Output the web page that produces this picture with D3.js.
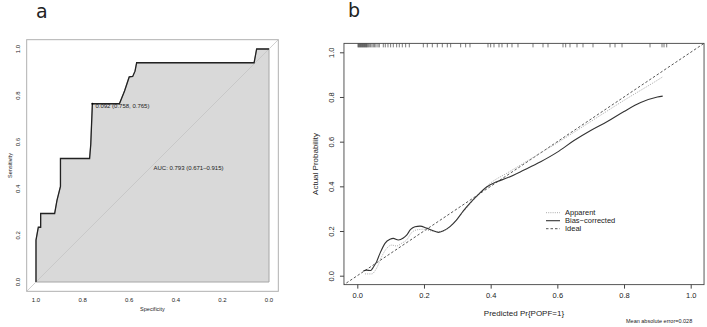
<!DOCTYPE html>
<html>
<head>
<meta charset="utf-8">
<script src="https://cdn.jsdelivr.net/npm/d3@7"></script>
<style>
  body { margin: 0; background: #fff; }
  svg text { font-family: "Liberation Sans", Arial, sans-serif; fill: #222; }
</style>
</head>
<body>
<div id="chart"></div>
<script>
// ROC curve (panel a): specificity / sensitivity pairs
const rocSpec = [1, 1, 0.99, 0.98, 0.98, 0.92, 0.91, 0.895, 0.895, 0.77, 0.765, 0.758, 0.642, 0.62, 0.60, 0.585, 0.575, 0.568, 0.064, 0.053, 0];
const rocSens = [0, 0.18, 0.235, 0.235, 0.294, 0.294, 0.35, 0.41, 0.53, 0.53, 0.59, 0.765, 0.765, 0.82, 0.88, 0.882, 0.905, 0.941, 0.941, 1, 1];
const bestPoint = { spec: 0.758, sens: 0.765, label: "0.092 (0.758, 0.765)" };
const aucLabel = "AUC: 0.793 (0.671\u20130.915)";
const ticksA = [0, 0.2, 0.4, 0.6, 0.8, 1.0];

// calibration curve (panel b)
const biasX = [0.018, 0.028, 0.040, 0.048, 0.058, 0.068, 0.083, 0.098, 0.108, 0.123, 0.138, 0.148, 0.160, 0.173, 0.188, 0.208, 0.228, 0.243, 0.258, 0.278, 0.298, 0.318, 0.338, 0.358, 0.388, 0.418, 0.45, 0.5, 0.55, 0.6, 0.65, 0.7, 0.75, 0.8, 0.85, 0.9, 0.916];
const biasY = [0.021, 0.025, 0.023, 0.038, 0.063, 0.100, 0.145, 0.163, 0.167, 0.160, 0.169, 0.182, 0.207, 0.219, 0.222, 0.213, 0.201, 0.194, 0.201, 0.220, 0.250, 0.290, 0.325, 0.356, 0.397, 0.420, 0.438, 0.473, 0.51, 0.553, 0.605, 0.65, 0.69, 0.735, 0.775, 0.80, 0.804];
const appX = [0.023, 0.043, 0.058, 0.073, 0.088, 0.103, 0.118, 0.133, 0.148, 0.163, 0.178, 0.198, 0.218, 0.238, 0.258, 0.28, 0.3, 0.35, 0.4, 0.45, 0.5, 0.55, 0.6, 0.7, 0.8, 0.9, 0.916];
const appY = [0.008, 0.008, 0.034, 0.085, 0.122, 0.137, 0.133, 0.145, 0.160, 0.193, 0.205, 0.208, 0.201, 0.197, 0.200, 0.222, 0.255, 0.34, 0.415, 0.46, 0.505, 0.55, 0.595, 0.69, 0.785, 0.875, 0.89];
const rugX = [0.002, 0.004, 0.006, 0.008, 0.010, 0.012, 0.014, 0.016, 0.018, 0.020, 0.022, 0.024, 0.026, 0.028, 0.030, 0.033, 0.036, 0.040, 0.044, 0.048, 0.052, 0.056,
  0.062, 0.066, 0.078, 0.084, 0.092, 0.100, 0.108, 0.118, 0.126, 0.135, 0.145, 0.156,
  0.198, 0.21, 0.225, 0.24, 0.255, 0.27, 0.28, 0.31, 0.325, 0.338,
  0.392, 0.40, 0.41, 0.425, 0.434, 0.45, 0.464, 0.482, 0.527, 0.557, 0.572,
  0.617, 0.625, 0.638, 0.659, 0.677, 0.707, 0.758, 0.773, 0.794, 0.878, 0.914, 0.92, 0.928];
const legendItems = ["Apparent", "Bias\u2212corrected", "Ideal"];
const ticksB = [0, 0.2, 0.4, 0.6, 0.8, 1.0];
const maeLabel = "Mean absolute error=0.028";

const width = 707, height = 327;
const svg = d3.select("#chart").append("svg")
  .attr("width", width).attr("height", height);

// ---------- panel a ----------
const xA = d3.scaleLinear().domain([1, 0]).range([36, 269]);
const yA = d3.scaleLinear().domain([0, 1]).range([282, 49]);
const gA = svg.append("g");

gA.append("text").attr("x", 36).attr("y", 18).style("font-size", "19px")
  .style("font-family", "DejaVu Sans, sans-serif").text("a");

const boxA = { x0: xA(1.04), x1: xA(-0.04), y0: yA(1.04), y1: yA(-0.04) };
gA.append("clipPath").attr("id", "clipA").append("rect")
  .attr("x", boxA.x0).attr("y", boxA.y0)
  .attr("width", boxA.x1 - boxA.x0).attr("height", boxA.y1 - boxA.y0);

// filled area under the curve
const rocPts = rocSpec.map((s, i) => [s, rocSens[i]]);
const areaPts = rocPts.concat([[0, 0]]);
gA.append("path")
  .attr("d", d3.line().x(d => xA(d[0])).y(d => yA(d[1]))(areaPts) + "Z")
  .attr("fill", "#d9d9d9").attr("stroke", "#a6a6a6").attr("stroke-width", 1);

// chance diagonal
gA.append("line").attr("clip-path", "url(#clipA)")
  .attr("x1", xA(1.1)).attr("y1", yA(-0.1)).attr("x2", xA(-0.1)).attr("y2", yA(1.1))
  .attr("stroke", "#c4c4c4").attr("stroke-width", 0.8);

gA.append("path")
  .attr("d", d3.line().x(d => xA(d[0])).y(d => yA(d[1]))(rocPts))
  .attr("fill", "none").attr("stroke", "#222").attr("stroke-width", 1.3);

gA.append("circle").attr("cx", xA(bestPoint.spec)).attr("cy", yA(bestPoint.sens))
  .attr("r", 1).attr("fill", "#000");
gA.append("text").attr("x", xA(bestPoint.spec) + 3).attr("y", yA(bestPoint.sens) + 4)
  .style("font-size", "6px").text(bestPoint.label);
gA.append("text").attr("x", xA(0.5) + 1).attr("y", yA(0.49) + 2)
  .style("font-size", "6px").text(aucLabel);

gA.append("rect").attr("x", boxA.x0).attr("y", boxA.y0)
  .attr("width", boxA.x1 - boxA.x0).attr("height", boxA.y1 - boxA.y0)
  .attr("fill", "none").attr("stroke", "#b0b0b0").attr("stroke-width", 1);

gA.selectAll(".xta").data(ticksA).join("text")
  .attr("x", d => xA(d)).attr("y", 302).attr("text-anchor", "middle")
  .style("font-size", "6px").text(d => d.toFixed(1));
gA.selectAll(".yta").data(ticksA).join("text")
  .attr("transform", d => `translate(20,${yA(d)}) rotate(-90)`)
  .attr("text-anchor", "middle").style("font-size", "6px").text(d => d.toFixed(1));
gA.append("text").attr("x", xA(0.5)).attr("y", 311).attr("text-anchor", "middle")
  .style("font-size", "5.5px").text("Specificity");
gA.append("text").attr("transform", `translate(12,${yA(0.5)}) rotate(-90)`)
  .attr("text-anchor", "middle").style("font-size", "5.5px").text("Sensitivity");

// ---------- panel b ----------
const xB = d3.scaleLinear().domain([0, 1]).range([357.3, 690.7]);
const yB = d3.scaleLinear().domain([0, 1]).range([275.7, 52.3]);
const gB = svg.append("g");

gB.append("text").attr("x", 348).attr("y", 17).style("font-size", "19px")
  .style("font-family", "DejaVu Sans, sans-serif").text("b");

const boxB = { x0: xB(-0.04), x1: xB(1.04), y0: yB(1.04), y1: yB(-0.04) };
gB.append("clipPath").attr("id", "clipB").append("rect")
  .attr("x", boxB.x0).attr("y", boxB.y0)
  .attr("width", boxB.x1 - boxB.x0).attr("height", boxB.y1 - boxB.y0);

gB.append("line").attr("clip-path", "url(#clipB)")
  .attr("x1", xB(-0.1)).attr("y1", yB(-0.1)).attr("x2", xB(1.1)).attr("y2", yB(1.1))
  .attr("stroke", "#444").attr("stroke-width", 0.9).attr("stroke-dasharray", "2.5,2");

const lineB = d3.line().x(d => xB(d[0])).y(d => yB(d[1])).curve(d3.curveMonotoneX);
gB.append("path").attr("d", lineB(appX.map((v, i) => [v, appY[i]])))
  .attr("fill", "none").attr("stroke", "#aaa").attr("stroke-width", 1)
  .attr("stroke-dasharray", "1,1.2");
gB.append("path").attr("d", lineB(biasX.map((v, i) => [v, biasY[i]])))
  .attr("fill", "none").attr("stroke", "#333").attr("stroke-width", 1.1);

// rug of predicted values along the top
gB.selectAll(".rug").data(rugX).join("line")
  .attr("x1", d => xB(d)).attr("x2", d => xB(d))
  .attr("y1", boxB.y0).attr("y2", boxB.y0 + 4)
  .attr("stroke", "#222").attr("stroke-width", 0.6);

gB.append("rect").attr("x", boxB.x0).attr("y", boxB.y0)
  .attr("width", boxB.x1 - boxB.x0).attr("height", boxB.y1 - boxB.y0)
  .attr("fill", "none").attr("stroke", "#444").attr("stroke-width", 0.9);

// axes
gB.append("g").attr("transform", `translate(0,${boxB.y1})`)
  .call(d3.axisBottom(xB).tickValues(ticksB).tickSize(4).tickFormat(d3.format(".1f")))
  .call(g => g.select(".domain").remove())
  .call(g => g.selectAll("line").attr("stroke", "#444"))
  .call(g => g.selectAll("text").attr("dy", "0.9em").style("font-size", "7.5px")
    .style("font-family", "Liberation Sans, Arial, sans-serif"));
gB.append("g").attr("transform", `translate(${boxB.x0},0)`)
  .call(d3.axisLeft(yB).tickValues(ticksB).tickSize(4).tickFormat(d3.format(".1f")))
  .call(g => g.select(".domain").remove())
  .call(g => g.selectAll("line").attr("stroke", "#444"))
  .call(g => g.selectAll("text")
    .attr("x", null).attr("dy", null)
    .attr("transform", d => `translate(-10,0) rotate(-90)`)
    .attr("text-anchor", "middle")
    .style("font-size", "7.5px")
    .style("font-family", "Liberation Sans, Arial, sans-serif"));

gB.append("text").attr("x", xB(0.5)).attr("y", 316).attr("text-anchor", "middle")
  .style("font-size", "8px").text("Predicted Pr{POPF=1}");
gB.append("text").attr("transform", `translate(318,${(boxB.y0 + boxB.y1) / 2}) rotate(-90)`)
  .attr("text-anchor", "middle").style("font-size", "8px").text("Actual Probability");
gB.append("text").attr("x", 626).attr("y", 323)
  .style("font-size", "5.5px").text(maeLabel);

// legend
const legend = gB.append("g").attr("transform", "translate(546,212.7)");
const legStyles = [
  { stroke: "#aaa", dash: "1,1.2", w: 1 },
  { stroke: "#333", dash: null, w: 1.1 },
  { stroke: "#444", dash: "2.5,2", w: 0.9 }
];
legendItems.forEach((name, i) => {
  const row = legend.append("g").attr("transform", `translate(0,${i * 8})`);
  row.append("line").attr("x1", 0).attr("x2", 14).attr("y1", 0).attr("y2", 0)
    .attr("stroke", legStyles[i].stroke).attr("stroke-width", legStyles[i].w)
    .attr("stroke-dasharray", legStyles[i].dash);
  row.append("text").attr("x", 19).attr("y", 2.6).style("font-size", "7.5px").text(name);
});
</script>
</body>
</html>
